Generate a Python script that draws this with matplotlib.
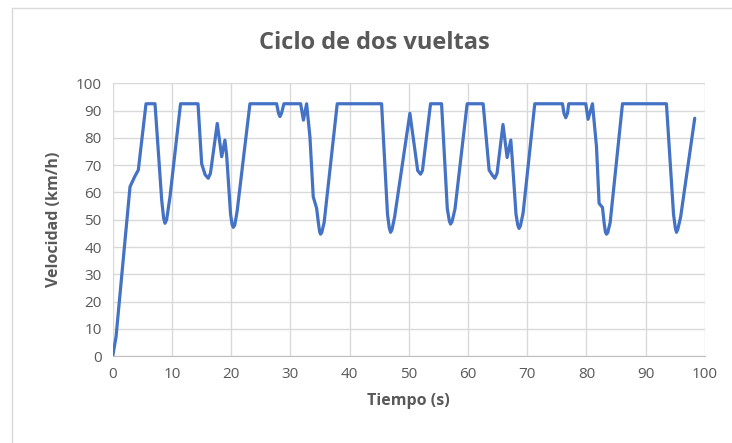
import matplotlib.pyplot as plt
from matplotlib.patches import Rectangle

# Valores (tiempo en s, velocidad en km/h)
tiempo = [0, 0.56, 2.92, 3.76, 4.32, 5.62, 7.14,
          8.27, 8.6, 8.83, 9.1, 9.67, 11.45, 14.4, 15.02, 15.6, 16.13, 16.5,
          17.65, 18.4, 18.95, 19.24, 19.9, 20.15, 20.35, 20.6, 21.0, 23.17,
          27.68, 28.0, 28.24, 28.5, 28.91, 31.73, 32.2, 32.74,
          33.3, 33.86, 34.43, 34.75, 34.95, 35.1, 35.3, 35.7, 37.91, 45.4,
          46.4, 46.7, 46.92, 47.15, 47.6, 50.18, 51.5, 51.98, 52.3, 53.67, 55.53,
          56.5, 56.85, 57.05, 57.3, 57.8, 59.85, 62.55, 63.56, 64.2, 64.52, 64.9,
          65.9, 66.6, 67.22, 67.44, 68.1, 68.4, 68.62, 68.85, 69.3, 71.27,
          75.95, 76.2, 76.5, 76.8, 77.0, 79.88, 80.27, 81.01,
          81.69, 82.13, 82.7, 83.0, 83.2, 83.38, 83.6, 84.0, 86.08, 93.5,
          94.7, 95.0, 95.19, 95.4, 95.9, 98.28]
velocidad = [0, 7.1, 62.1, 66.0, 68.2, 92.5, 92.5,
             57.2, 50.5, 48.7, 50.0, 58.4, 92.5, 92.5, 70.5, 66.5, 65.2, 67.0,
             85.3, 73.1, 79.2, 73.5, 52.0, 48.3, 47.2, 48.0, 53.0, 92.5,
             92.5, 89.0, 87.8, 89.0, 92.5, 92.5, 86.5, 92.5,
             80.4, 58.4, 54.2, 48.5, 45.5, 44.7, 45.3, 49.0, 92.5, 92.5,
             52.0, 47.0, 45.4, 46.3, 51.0, 89.0, 68.0, 66.7, 68.0, 92.5, 92.5,
             54.0, 49.5, 48.4, 49.3, 54.0, 92.5, 92.5, 68.2, 66.0, 65.2, 67.0,
             84.9, 72.8, 79.2, 73.0, 52.0, 48.0, 46.8, 47.8, 52.5, 92.5,
             92.5, 89.0, 87.4, 89.0, 92.5, 92.5, 86.8, 92.5,
             76.8, 56.0, 54.5, 48.5, 45.5, 44.7, 45.3, 49.0, 92.5, 92.5,
             52.0, 47.0, 45.4, 46.3, 51.0, 87.2]

xticks = list(range(0, 101, 10))
yticks = list(range(0, 101, 10))

plt.rcParams['font.family'] = ['Open Sans', 'DejaVu Sans']

fig = plt.figure(figsize=(7.32, 4.43), dpi=100)
# borde del área del gráfico
fig.patches.append(Rectangle((12 / 732, -0.1), 1.2, 1 - 8 / 443 + 0.1,
                             transform=fig.transFigure, fill=False,
                             edgecolor='#d9d9d9', linewidth=1.0))

ax = fig.add_axes([0.154, 0.196, 0.809, 0.616])
ax.plot(tiempo, velocidad, color='#4472C4', linewidth=2.3,
        solid_joinstyle='round', solid_capstyle='round')

ax.set_xlim(0, 100)
ax.set_ylim(0, 100)
ax.set_xticks(xticks)
ax.set_yticks(yticks)
ax.grid(True, color='#d9d9d9', linewidth=1.0)
ax.set_axisbelow(True)
for s in ['top', 'right', 'left']:
    ax.spines[s].set_visible(False)
ax.spines['bottom'].set_color('#bfbfbf')
ax.tick_params(length=0, labelsize=11, labelcolor='#595959', pad=8)

ax.set_xlabel('Tiempo (s)', fontsize=11.5, fontweight='bold', color='#595959', labelpad=8)
ax.set_ylabel('Velocidad (km/h)', fontsize=11.5, fontweight='bold', color='#595959', labelpad=10)
fig.text(0.512, 0.902, 'Ciclo de dos vueltas', ha='center', va='center',
         fontsize=17, fontweight='bold', color='#595959')

fig.savefig('out.png', dpi=100)
